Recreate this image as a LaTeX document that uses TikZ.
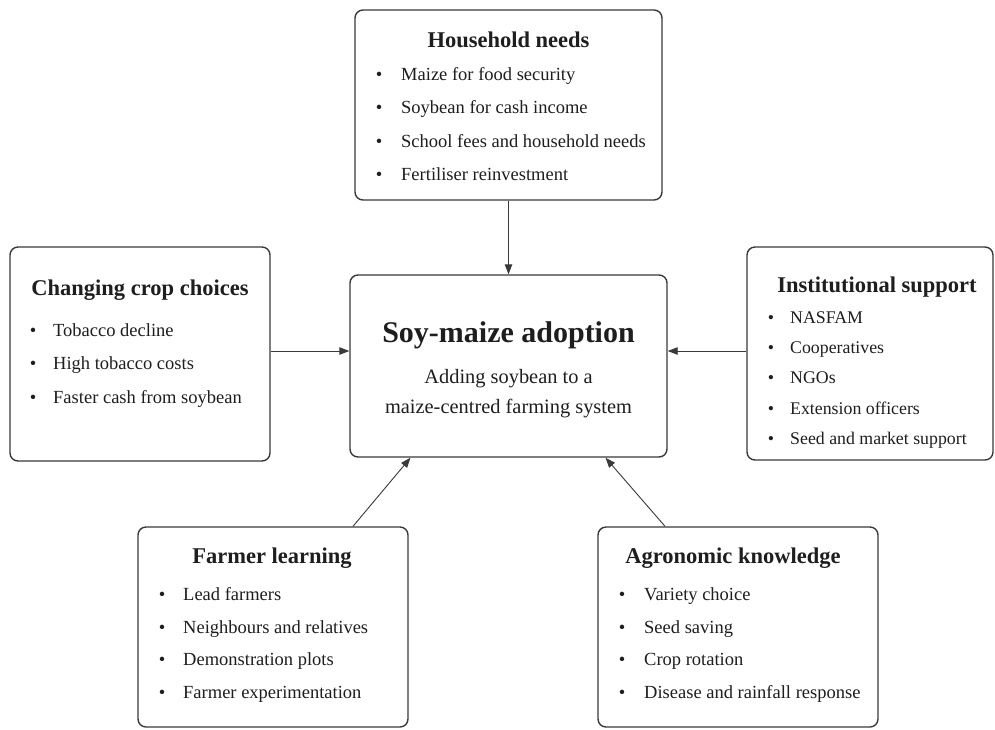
\documentclass[tikz,border=0pt]{standalone}
\usepackage{fontspec}
\setmainfont{Liberation Serif}
\usetikzlibrary{arrows.meta}

\begin{document}
\begin{tikzpicture}[x=1pt,y=-1pt,
  mybox/.style={draw=boxline,line width=1.4pt,rounded corners=8pt,fill=white,inner sep=0pt},
  mytitle/.style={anchor=base,inner sep=0pt,text=ink,font=\fontsize{22.5}{27}\selectfont\bfseries},
  myitem/.style={anchor=base west,inner sep=0pt,text=ink,font=\fontsize{18.5}{22}\selectfont},
  mydot/.style={anchor=base,inner sep=0pt,text=ink,font=\fontsize{18.5}{22}\selectfont},
  myarrow/.style={draw=boxline,line width=0.9pt,-{Triangle[length=10pt,width=7.5pt]}}]
\definecolor{boxline}{HTML}{3A3A3A}
\definecolor{ink}{HTML}{1E1E1E}
\useasboundingbox[fill=white] (0,0) rectangle (995,729);

\node [mybox,minimum width=307,minimum height=190] (hh) at (508.5,105) {};
\node [mybox,minimum width=317,minimum height=182] (adopt) at (508.5,366) {};
\node [mybox,minimum width=260,minimum height=214] (crop) at (140,354) {};
\node [mybox,minimum width=246,minimum height=213] (inst) at (870,353.5) {};
\node [mybox,minimum width=270,minimum height=200] (learn) at (273,627) {};
\node [mybox,minimum width=280,minimum height=200] (agro) at (738,627) {};

\node [mytitle] (hhtitle) at (508.5,47) {Household needs};
\node [mytitle] (croptitle) at (140,295) {Changing crop choices};
\node [mytitle] (insttitle) at (877,292) {Institutional support};
\node [mytitle] (learntitle) at (272,563) {Farmer learning};
\node [mytitle] (agrotitle) at (733,563) {Agronomic knowledge};

\node [anchor=base,inner sep=0pt,text=ink,font=\fontsize{30}{36}\selectfont\bfseries] (adopttitle) at (508.5,342) {Soy-maize adoption};
\node [anchor=base,inner sep=0pt,text=ink,font=\fontsize{20.4}{24}\selectfont] (adoptsub1) at (508.5,383) {Adding soybean to a};
\node [anchor=base,inner sep=0pt,text=ink,font=\fontsize{20.4}{24}\selectfont] (adoptsub2) at (508.5,413) {maize-centred farming system};

\foreach \txt/\yy [count=\i] in {Maize for food security/80,Soybean for cash income/113.5,School fees and household needs/147,Fertiliser reinvestment/180}
  { \node [mydot] (hhdot\i) at (379,\yy) {\textbullet};
    \node [myitem] (hhitem\i) at (401,\yy) {\txt}; }
\foreach \txt/\yy [count=\i] in {Tobacco decline/336,High tobacco costs/369.5,Faster cash from soybean/403}
  { \node [mydot] (cropdot\i) at (33,\yy) {\textbullet};
    \node [myitem] (cropitem\i) at (53,\yy) {\txt}; }
\foreach \txt/\yy [count=\i] in {NASFAM/323,Cooperatives/353,NGOs/383,Extension officers/414,Seed and market support/444}
  { \node [mydot,font=\fontsize{17.8}{21}\selectfont] (instdot\i) at (771,\yy) {\textbullet};
    \node [myitem,font=\fontsize{17.8}{21}\selectfont] (institem\i) at (790,\yy) {\txt}; }
\foreach \txt/\yy [count=\i] in {Lead farmers/600,Neighbours and relatives/633,Demonstration plots/665.5,Farmer experimentation/698}
  { \node [mydot] (learndot\i) at (162,\yy) {\textbullet};
    \node [myitem] (learnitem\i) at (183,\yy) {\txt}; }
\foreach \txt/\yy [count=\i] in {Variety choice/600,Seed saving/633,Crop rotation/665.5,Disease and rainfall response/698}
  { \node [mydot] (agrodot\i) at (622,\yy) {\textbullet};
    \node [myitem] (agroitem\i) at (644,\yy) {\txt}; }

\draw [myarrow] (hh.south) -- (adopt.north);
\draw [myarrow] ([yshift=3pt]crop.east) -- ([yshift=3pt]crop.east -| adopt.west);
\draw [myarrow] ([yshift=2.5pt]inst.west) -- ([yshift=2.5pt]inst.west -| adopt.east);
\draw [myarrow] ([xshift=80pt]learn.north) -- ([xshift=-98pt]adopt.south);
\draw [myarrow] ([xshift=-73pt]agro.north) -- ([xshift=97pt]adopt.south);
\end{tikzpicture}
\end{document}
